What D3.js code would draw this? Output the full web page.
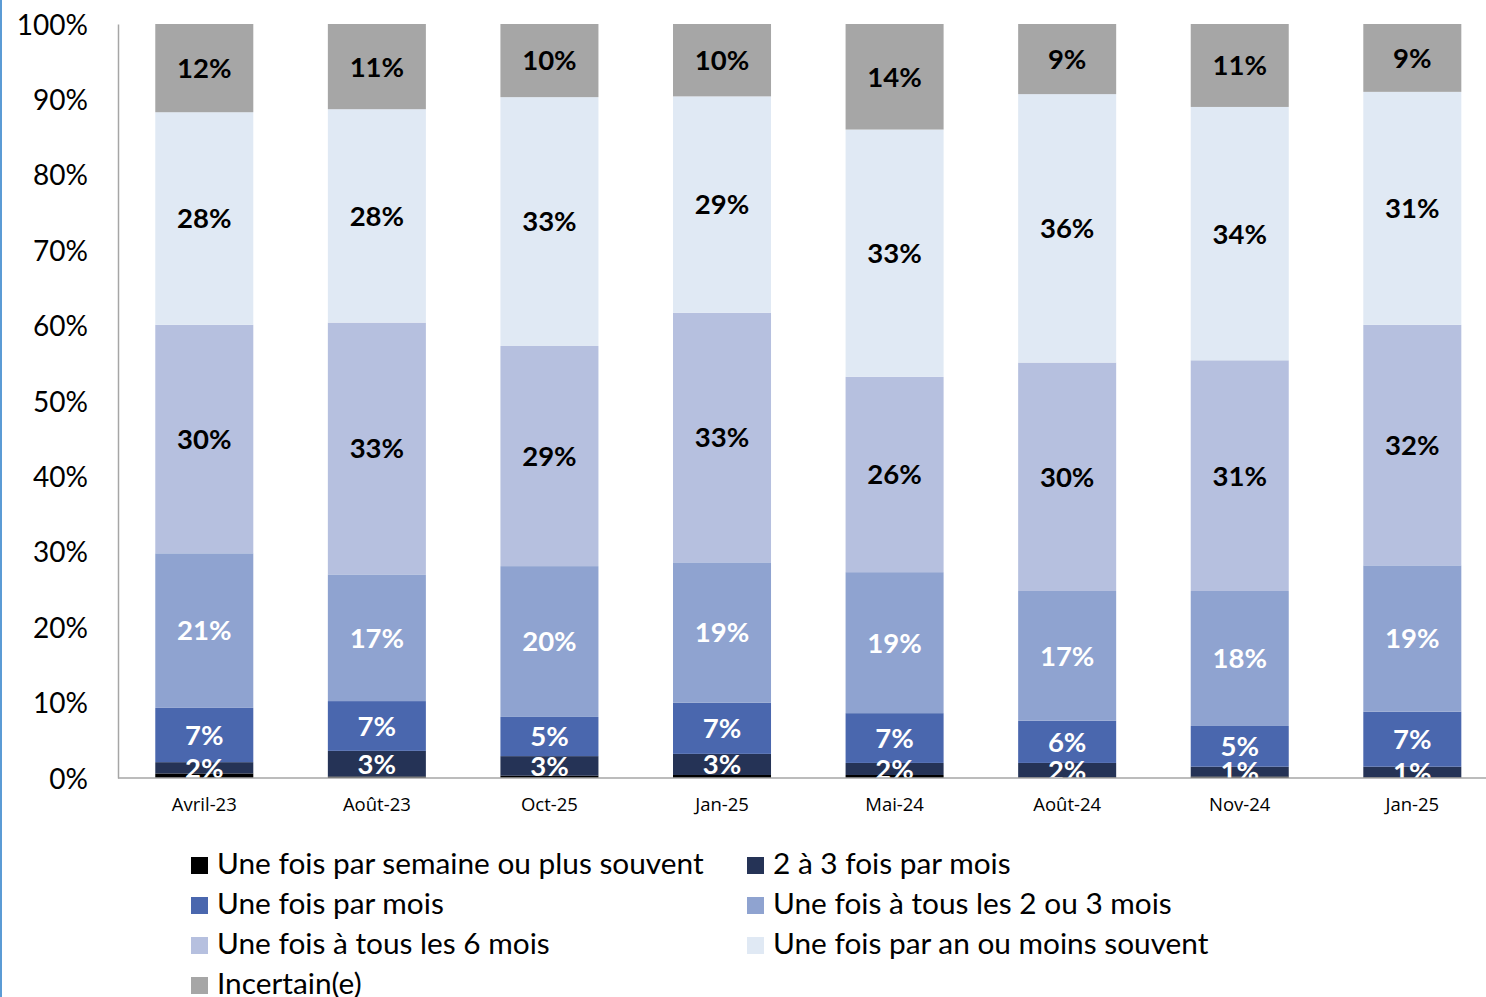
<!DOCTYPE html>
<html>
<head>
<meta charset="utf-8">
<script src="https://cdn.jsdelivr.net/npm/d3@7"></script>
<style>
  html, body { margin: 0; padding: 0; background: #fff; }
  svg { display: block; }
</style>
</head>
<body>
<svg id="chart" width="1486" height="997"></svg>
<script>
// ---- data ----
const categories = ["Avril-23", "Août-23", "Oct-25", "Jan-25", "Mai-24", "Août-24", "Nov-24", "Jan-25"];
const seriesNames = [
  "Une fois par semaine ou plus souvent",
  "2 à 3 fois par mois",
  "Une fois par mois",
  "Une fois à tous les 2 ou 3 mois",
  "Une fois à tous les 6 mois",
  "Une fois par an ou moins souvent",
  "Incertain(e)"
];
const hebdo        = [0.6, 0.2, 0.3, 0.4, 0.4, 0.1, 0.2, 0.1];
const deuxTroisMois = [1.5, 3.4, 2.6, 2.8, 1.6, 1.9, 1.3, 1.4];
const mensuel      = [7.2, 6.6, 5.2, 6.8, 6.6, 5.6, 5.4, 7.3];
const bimestriel   = [20.5, 16.8, 20.0, 18.6, 18.7, 17.2, 17.9, 19.4];
const semestriel   = [30.3, 33.4, 29.2, 33.1, 25.9, 30.3, 30.6, 31.9];
const annuel       = [28.2, 28.3, 33.0, 28.7, 32.8, 35.6, 33.6, 30.9];
const incertain    = [11.7, 11.3, 9.7, 9.6, 14.0, 9.3, 11.0, 9.0];
const yTicks = [0, 10, 20, 30, 40, 50, 60, 70, 80, 90, 100];

const seriesValues = [hebdo, deuxTroisMois, mensuel, bimestriel, semestriel, annuel, incertain];
const colors = ["#000000", "#253356", "#4a67ae", "#8fa3d0", "#b6c0df", "#e0e9f4", "#a6a6a6"];
const labelColors = [null, "#ffffff", "#ffffff", "#ffffff", "#000000", "#000000", "#000000"];

// ---- build table ----
const keys = seriesNames.map((_, i) => "s" + i);
const table = categories.map((c, j) => {
  const row = { idx: j, cat: c };
  keys.forEach((k, i) => row[k] = seriesValues[i][j]);
  return row;
});
const stacked = d3.stack().keys(keys)(table);

// ---- layout ----
const svg = d3.select("#chart");
const plotLeft = 118, plotBottom = 778, plotTop = 24;

const x = d3.scaleBand()
  .domain(d3.range(categories.length))
  .range([118, 1498.6])
  .paddingInner(0.432)
  .paddingOuter(0.216);
const y = d3.scaleLinear().domain([0, 100]).range([plotBottom, plotTop]);

// left blue border
svg.append("rect").attr("x", 0).attr("y", 0).attr("width", 2).attr("height", 997).attr("fill", "#5b9bd5");

// clip for labels
svg.append("defs").append("clipPath").attr("id", "plotclip")
  .append("rect").attr("x", plotLeft).attr("y", 0).attr("width", 1486 - plotLeft).attr("height", plotBottom);

// bars
const layers = svg.append("g").selectAll("g").data(stacked).join("g")
  .attr("fill", (d, i) => colors[i]);
layers.selectAll("rect").data(d => d).join("rect")
  .attr("x", d => x(d.data.idx))
  .attr("width", x.bandwidth())
  .attr("y", d => y(d[1]))
  .attr("height", d => y(d[0]) - y(d[1]));

// data labels
const lbl = svg.append("g").attr("clip-path", "url(#plotclip)");
stacked.forEach((layer, i) => {
  if (!labelColors[i]) return;
  lbl.append("g").selectAll("text").data(layer).join("text")
    .attr("x", d => x(d.data.idx) + x.bandwidth() / 2)
    .attr("y", d => (y(d[0]) + y(d[1])) / 2)
    .attr("dy", "0.36em")
    .attr("text-anchor", "middle")
    .attr("font-family", "Lato, 'Open Sans', sans-serif")
    .attr("font-weight", "bold")
    .attr("font-size", 27.5)
    .attr("fill", labelColors[i])
    .text(d => Math.round(d[1] - d[0]) + "%");
});

// y axis
const yAxis = svg.append("g").attr("transform", `translate(${plotLeft},0)`)
  .call(d3.axisLeft(y).tickValues(yTicks).tickSize(0).tickPadding(30).tickFormat(d => d + "%"));
yAxis.select(".domain").attr("stroke", "#a6a6a6").attr("stroke-width", 1.5);
yAxis.selectAll("text")
  .attr("font-family", "Lato, 'Open Sans', sans-serif")
  .attr("font-size", 28)
  .attr("fill", "#000")
  .attr("dy", "0.36em");

// x axis
const xAxis = svg.append("g").attr("transform", `translate(0,${plotBottom})`)
  .call(d3.axisBottom(x).tickSize(0).tickPadding(20).tickFormat(i => categories[i]));
xAxis.select(".domain").remove();
svg.append("line").attr("x1", plotLeft).attr("x2", 1486).attr("y1", plotBottom).attr("y2", plotBottom)
  .attr("stroke", "#a6a6a6").attr("stroke-width", 1.5);
xAxis.selectAll("text")
  .attr("font-family", "'Open Sans', Lato, sans-serif")
  .attr("font-size", 18.5)
  .attr("fill", "#000");

// legend
const legend = svg.append("g");
seriesNames.forEach((name, i) => {
  const col = i % 2, row = Math.floor(i / 2);
  const sx = col === 0 ? 191 : 747;
  const base = 874 + row * 40;
  const g = legend.append("g");
  g.append("rect").attr("x", sx).attr("y", base - 17).attr("width", 17).attr("height", 17).attr("fill", colors[i]);
  g.append("text").attr("x", sx + 26).attr("y", base)
    .attr("font-family", "Lato, 'Open Sans', sans-serif")
    .attr("font-size", 29.8)
    .attr("fill", "#000")
    .text(name);
});
</script>
</body>
</html>
